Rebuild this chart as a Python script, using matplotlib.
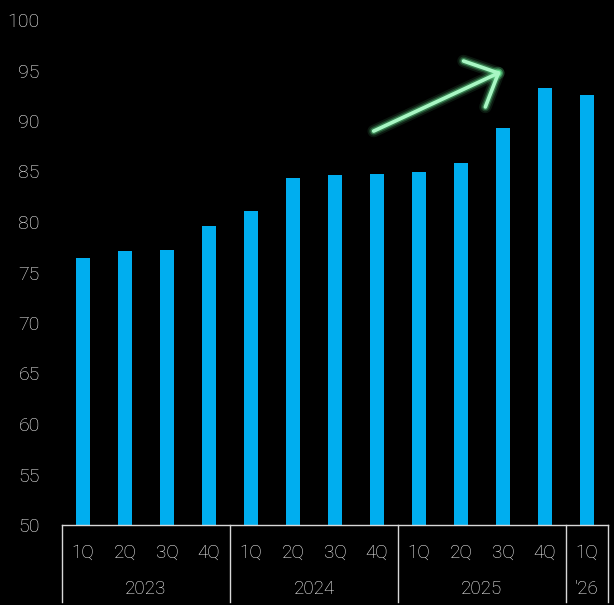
import matplotlib
matplotlib.use("Agg")
import matplotlib.pyplot as plt
from matplotlib.transforms import blended_transform_factory

# Quarterly series
quarters = ["1Q", "2Q", "3Q", "4Q", "1Q", "2Q", "3Q", "4Q", "1Q", "2Q", "3Q", "4Q", "1Q"]
values = [76.4, 77.1, 77.2, 79.6, 81.1, 84.4, 84.7, 84.8, 85.0, 85.8, 89.3, 93.3, 92.6]
years = ["2023", "2024", "2025", "'26"]
quarters_per_year = [4, 4, 4, 1]
yticks = [50, 55, 60, 65, 70, 75, 80, 85, 90, 95, 100]

BAR = "#00AEEF"
TXT = "#FFFFFF"
BG = "#000000"

plt.rcParams["font.family"] = ["Roboto", "DejaVu Sans"]

fig = plt.figure(figsize=(6.14, 6.05), dpi=100, facecolor=BG)
ax = fig.add_axes([62 / 614, 80 / 605, 546 / 614, 505 / 605], facecolor=BG)

x = list(range(len(values)))
ax.bar(x, [v - 50 for v in values], bottom=50, width=0.33, color=BAR, zorder=2)

ax.set_xlim(-0.5, len(values) - 0.5)
ax.set_ylim(50, 100)
ax.set_yticks(yticks)
ax.set_yticklabels([str(t) for t in yticks], fontsize=14, color=TXT, fontweight="light")
ax.tick_params(axis="y", length=0, pad=16)
ax.set_xticks([])
for s in ["top", "right", "left"]:
    ax.spines[s].set_visible(False)
ax.spines["bottom"].set_color("#D8D8D8")
ax.spines["bottom"].set_linewidth(1.0)

# Two-level category axis: quarters above years, boxed by year
tr = blended_transform_factory(ax.transData, ax.transAxes)
for i, q in enumerate(quarters):
    ax.text(i, -28 / 505, q, transform=tr, ha="center", va="center",
            fontsize=13.5, color=TXT, fontweight="light", clip_on=False)

edges = [-0.5]
start = -0.5
for yr, n in zip(years, quarters_per_year):
    end = start + n
    ax.text((start + end) / 2, -64 / 505, yr, transform=tr, ha="center", va="center",
            fontsize=13.5, color=TXT, fontweight="light", clip_on=False)
    edges.append(end)
    start = end
for e in edges:
    ax.plot([e, e], [0, -77 / 505], transform=tr, color="#D8D8D8", lw=1.0, clip_on=False)

# Hand-drawn style upward arrow with a soft glow
shaft = ([6.92, 9.89], [89.0, 94.75])
head_a = ([9.06, 9.89], [95.94, 94.75])
head_b = ([9.58, 9.89], [91.39, 94.75])
for xs, ys in (shaft, head_a, head_b):
    for lw, a in ((9, 0.10), (6.5, 0.18), (4.5, 0.35)):
        ax.plot(xs, ys, color="#6CF59A", lw=lw, alpha=a, solid_capstyle="round", zorder=4)
    ax.plot(xs, ys, color="#A8F7C4", lw=2.6, solid_capstyle="round", zorder=5)

fig.savefig("out.png", dpi=100, facecolor=BG)
